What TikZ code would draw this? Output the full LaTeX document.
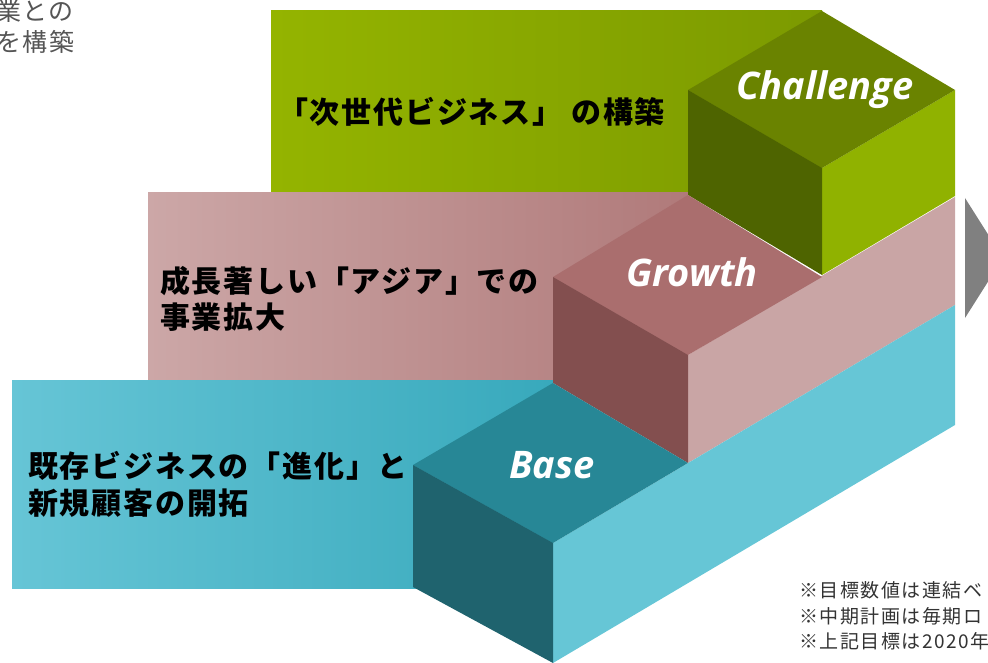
\documentclass[tikz,border=0pt]{standalone}
\usepackage{fontspec}
\newfontfamily\jp{Noto Sans CJK JP}[LetterSpace=6]
\newfontfamily\jpnote{Noto Sans CJK JP}[LetterSpace=8]
\newfontfamily\jpcorner{Noto Sans CJK JP}[LetterSpace=6]
\newfontfamily\lab{Open Sans}
\definecolor{gL}{HTML}{94B400}
\definecolor{gR}{HTML}{7C9A00}
\definecolor{pL}{HTML}{CCA7A7}
\definecolor{pR}{HTML}{B07A7A}
\definecolor{cL}{HTML}{66C5D6}
\definecolor{cR}{HTML}{38A9BC}
\definecolor{gTop}{HTML}{6A8300}
\definecolor{gLeft}{HTML}{4E6400}
\definecolor{gRight}{HTML}{90B200}
\definecolor{pTop}{HTML}{AA6E6E}
\definecolor{pLeft}{HTML}{834F4F}
\definecolor{pRight}{HTML}{C9A5A5}
\definecolor{cTop}{HTML}{278796}
\definecolor{cLeft}{HTML}{1F636E}
\definecolor{cRight}{HTML}{66C6D6}
\definecolor{arrowgray}{HTML}{808080}
\definecolor{notegray}{HTML}{333333}
\definecolor{cornergray}{HTML}{555555}
\tikzset{
  maintext/.style={inner sep=0pt, anchor=base west, font=\jp\bfseries\fontsize{30}{34}\selectfont, text=black},
  cubelabel/.style={inner sep=0pt, anchor=base, font=\lab\bfseries\itshape\fontsize{38}{40}\selectfont, text=white},
  notetext/.style={inner sep=0pt, anchor=base west, font=\jpnote\fontsize{19}{22}\selectfont, text=notegray},
  cornertext/.style={inner sep=0pt, anchor=base west, font=\jpcorner\fontsize{25}{28}\selectfont, text=cornergray},
}
\begin{document}
\begin{tikzpicture}[x=1pt,y=-1pt]
\useasboundingbox (0,0) rectangle (988,663);
\clip (0,0) rectangle (988,663);
% banners
\fill[left color=gL, right color=gR] (271,11) rectangle (822,193);
\fill[left color=pL, right color=pR] (148,193) rectangle (688,380);
\fill[left color=cL, right color=cR] (12,380) rectangle (553,588);
% long right faces
\fill[gRight] (822,168) -- (955,90) -- (955,196) -- (822,275) -- cycle;
\fill[pRight] (688,355) -- (955,197) -- (955,305) -- (688,463) -- cycle;
\fill[cRight] (553,543) -- (955,305) -- (955,425) -- (553,663) -- cycle;
% Challenge cube
\fill[gTop] (688,90) -- (822,11) -- (955,90) -- (822,168) -- cycle;
\fill[gLeft] (688,90) -- (822,168) -- (822,275) -- (688,195) -- cycle;
% Growth cube
\fill[pTop] (553,277) -- (688,195) -- (822,277) -- (688,355) -- cycle;
\fill[pLeft] (553,277) -- (688,355) -- (688,463) -- (553,383) -- cycle;
% Base cube
\fill[cTop] (413,465) -- (553,383) -- (688,463) -- (553,543) -- cycle;
\fill[cLeft] (413,465) -- (553,543) -- (553,663) -- (413,587) -- cycle;
% arrow
\fill[arrowgray] (965,198) -- (1003,258) -- (965,318) -- cycle;
% texts
\node[maintext] (t1) at (278,124) {「次世代ビジネス」 の構築};
\node[maintext] (t2a) at (160,292) {成長著しい「アジア」での};
\node[maintext] (t2b) at (160,328) {事業拡大};
\node[maintext] (t3a) at (28,477) {既存ビジネスの「進化」と};
\node[maintext] (t3b) at (28,514) {新規顧客の開拓};
\node[cubelabel] (lc) at (825,100) {Challenge};
\node[cubelabel] (lg) at (692,287) {Growth};
\node[cubelabel] (lb) at (552,478) {Base};
\node[notetext] (n1) at (799,597) {※目標数値は連結ベ};
\node[notetext] (n2) at (799,623) {※中期計画は毎期ロ};
\node[notetext] (n3) at (799,648) {※上記目標は2020年};
\node[cornertext] (c1) at (-4,21) {業との};
\node[cornertext] (c2) at (-4,52) {を構築};
\end{tikzpicture}
\end{document}
